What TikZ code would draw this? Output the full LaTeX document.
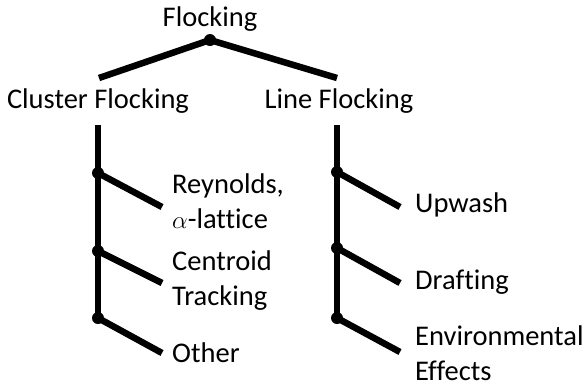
\documentclass[tikz,border=0pt]{standalone}
\usepackage{fontspec}
\setmainfont{Carlito}[Ligatures=NoCommon]
\usetikzlibrary{positioning}

\begin{document}
\begin{tikzpicture}[
    x=1pt, y=-1pt,
    font=\fontsize{28.5}{34.5}\selectfont,
    branch/.style={line width=6.5pt},
    junction/.style={fill=black},
    label/.style={inner sep=0pt, anchor=base},
    leaf/.style={inner sep=0pt, anchor=base west, align=left}
]
\useasboundingbox (0,0) rectangle (585,389);

% 1) Root
\node[label] (flocking) at (210,26) {Flocking};
\coordinate (root) at (210,40);

% 2) Two kinds of flocking
\node[label] (cluster) at (98,108) {Cluster Flocking};
\node[label] (line) at (339,108) {Line Flocking};
\coordinate (clusterTop) at (99,78);
\coordinate (lineTop) at (337,78);
\draw[branch] (clusterTop) -- (root) -- (lineTop);
\fill[junction] (root) circle (6pt);

% 3) Cluster flocking leaves (base = last line)
\coordinate (cBot) at (98,125);
\coordinate (c1) at (98,173);
\coordinate (c2) at (98,251);
\coordinate (c3) at (98,318);
\draw[branch] (cBot) -- (c3);
\node[leaf] (reynolds) at (172,228) {Reynolds,\\$\alpha$-lattice};
\node[leaf] (centroid) at (172,305) {Centroid\\Tracking};
\node[leaf] (other) at (172,362) {Other};
\coordinate (c1end) at (162,207);
\coordinate (c2end) at (162,283);
\coordinate (c3end) at (162,353);
\foreach \j in {1,2,3} {
  \draw[branch] (c\j) -- (c\j end);
  \fill[junction] (c\j) circle (6pt);
}

% 4) Line flocking leaves
\coordinate (lBot) at (337,125);
\coordinate (l1) at (337,172);
\coordinate (l2) at (337,248);
\coordinate (l3) at (337,318);
\draw[branch] (lBot) -- (l3);
\node[leaf] (upwash) at (415,212) {Upwash};
\node[leaf] (drafting) at (415,289) {Drafting};
\node[leaf] (environ) at (415,380) {Environmental\\Effects};
\coordinate (l1end) at (400,207);
\coordinate (l2end) at (400,283);
\coordinate (l3end) at (400,352);
\foreach \j in {1,2,3} {
  \draw[branch] (l\j) -- (l\j end);
  \fill[junction] (l\j) circle (6pt);
}
\end{tikzpicture}
\end{document}
